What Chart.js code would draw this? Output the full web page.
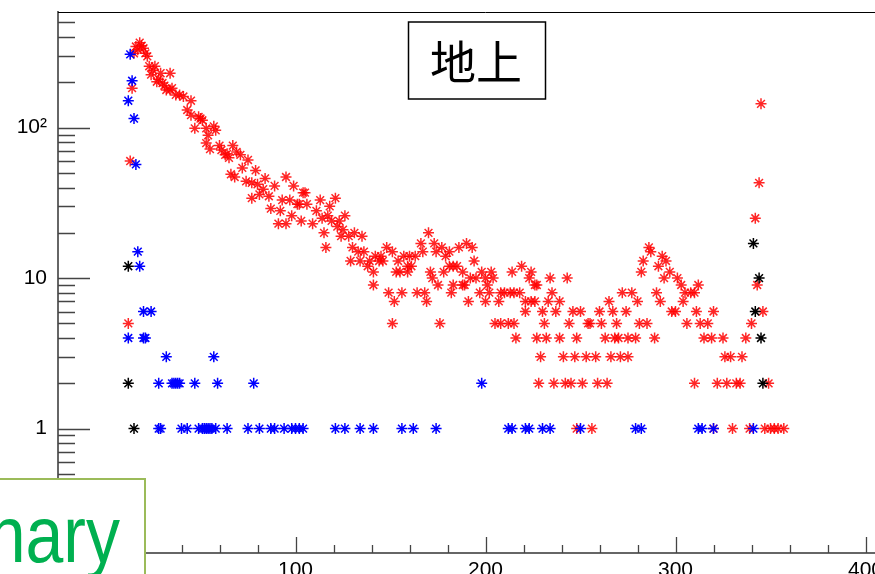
<!DOCTYPE html>
<html>
<head>
<meta charset="utf-8">
<script src="https://cdn.jsdelivr.net/npm/chart.js@4/dist/chart.umd.min.js"></script>
<style>
  html, body { margin: 0; padding: 0; background: #fff; overflow: hidden; }
  #wrap { width: 875px; height: 574px; overflow: hidden; position: relative; }
  canvas { position: absolute; left: 0; top: 0; }
</style>
</head>
<body>
<div id="wrap"><canvas id="myChart" width="920" height="600"></canvas></div>
<script>
// Werte (x, y)
const redX = [12,13,14,15,16,17,18,19,20,21,22,23,24,25,26,27,28,29,30,31,32,34,34,35,37,39,41,43,45,45,47,49,50,51,53,53,54,55,57,58,60,61,63,64,65,66,67,68,69,71,72,74,75,77,77,79,80,81,83,84,86,87,89,91,92,93,95,95,97,98,99,101,103,105,
  102,104,106,109,111,113,114,115,116,117,118,119,121,122,123,124,125,126,128,129,130,131,133,134,135,136,138,139,141,141,142,144,145,146,148,149,151,151,152,153,154,155,156,157,159,159,160,161,163,164,166,167,168,169,170,171,172,173,174,175,176,177,178,179,181,181,182,183,183,185,186,188,188,189,190,191,192,193,194,195,197,198,200,200,201,202,203,204,205,207,208,208,210,212,213,214,215,215,216,218,219,221,221,223,224,224,226,227,229,230,231,
  226,227,228,232,233,234,235,236,237,239,239,241,242,243,244,245,246,247,248,248,250,251,253,254,255,256,258,259,260,261,263,264,265,266,267,268,269,270,271,272,274,275,275,277,279,280,281,282,283,285,286,287,289,290,291,292,293,294,295,297,298,300,301,303,304,305,306,308,310,310,311,312,313,315,317,319,320,320,322,325,326,327,329,330,332,334,335,337,339,340,342,343,344,345,346,347,349,350,352,354,357];
const redY = [5,60,183,312,346,330,367,350,337,312,298,256,225,240,256,202,210,230,198,190,178,230,178,183,165,165,161,131,151,121,99,118,115,112,99,79,89,72,102,96,76,71,66,67,63,49,76,47,69,66,54,44,61,43,34,52,42,36,39,46,35,29,41,23,28,33,47,23,33,26,41,31,24,37,
  31,37,31,23,28,33,25,20,16,26,30,24,34,22,24,19,21,26,19,13,16,20,15,13,19,15,12,13,11,9,14,13,14,13,16,8,15,5,7,11,13,11,8,14,11,12,14,12,14,8,17,15,8,7,20,11,10,17,15,9,5,16,11,14,15,12,8,12,9,12,16,11,9,9,17,7,10,16,13,10,8,11,10,7,9,8,11,10,5,7,8,5,8,5,8,11,8,5,4,8,12,7,6,10,11,7,9,4,3,6,5,
  7,9,2,4,7,10,8,2,6,7,4,3,2,10,5,2,6,3,4,1,6,2,3,5,5,1,3,2,6,5,4,2,7,3,6,4,5,4,3,8,6,4,3,8,4,7,5,11,13,5,16,15,4,8,12,7,14,10,13,11,6,6,10,9,7,8,5,8,2,8,6,9,5,4,5,4,6,1,2,4,3,2,3,1,2,2,3,4,1,5,25,9,43,144,6,1,2,1,1,1,1];

const blueX = [13,14,12,15,16,17,18,20,24,12,20,21,32,57,28,35,36,37,38,39,47,59,78,198,
  28,29,40,43,49,51,52,53,54,55,56,58,64,75,81,87,89,94,98,100,102,104,121,126,134,141,156,162,174,212,214,221,223,230,234,250,279,282,312,314,320,341];
const blueY = [307,205,151,115,57,15,12,6,6,4,4,4,3,3,2,2,2,2,2,2,2,2,2,2,
  1,1,1,1,1,1,1,1,1,1,1,1,1,1,1,1,1,1,1,1,1,1,1,1,1,1,1,1,1,1,1,1,1,1,1,1,1,1,1,1,1,1];

const blackX = [12,12,15,341,344,342,345,346];
const blackY = [12,2,1,17,10,6,4,2];

// Achsenbeschriftungen
const xTickValues = [0, 100, 200, 300, 400];
const yTickValues = [1, 10, 100];
const yTickTexts = ['1', '10', '10\u00b2'];

function toPoints(xs, ys) {
  return xs.map((x, i) => ({ x: x, y: ys[i] }));
}

// Rahmen, Ticks nach innen, Titel und Kasten
const framePlugin = {
  id: 'frame',
  afterDraw(chart) {
    const ctx = chart.ctx;
    const a = chart.chartArea;
    const xs = chart.scales.x;
    const ys = chart.scales.y;
    ctx.save();
    ctx.strokeStyle = '#000';
    ctx.lineWidth = 1;
    ctx.beginPath();
    ctx.moveTo(a.left, a.top + 0.5);
    ctx.lineTo(a.right, a.top + 0.5);
    ctx.stroke();

    ctx.strokeStyle = '#444';
    ctx.lineWidth = 1.3;
    ctx.beginPath();
    // y Ticks
    for (let n = -1; n <= 2; n++) {
      for (let k = 1; k <= 9; k++) {
        const v = k * Math.pow(10, n);
        if (v < ys.min || v > ys.max) continue;
        const py = Math.round(ys.getPixelForValue(v)) + 0.5;
        const len = k === 1 ? 32 : 17;
        ctx.moveTo(a.left, py);
        ctx.lineTo(a.left + len, py);
      }
    }
    // x Ticks
    for (let v = -20; v <= 420; v += 20) {
      const px = Math.round(xs.getPixelForValue(v)) + 0.5;
      const len = v % 100 === 0 ? 16 : 8;
      ctx.moveTo(px, a.bottom);
      ctx.lineTo(px, a.bottom - len);
    }
    ctx.stroke();

    // Titelkasten
    ctx.fillStyle = '#fff';
    ctx.fillRect(408.5, 22, 137, 77);
    ctx.strokeStyle = '#000';
    ctx.lineWidth = 1.5;
    ctx.strokeRect(408.5, 22, 137, 77);
    ctx.fillStyle = '#000';
    ctx.font = '46px "Noto Sans CJK JP"';
    ctx.textAlign = 'center';
    ctx.textBaseline = 'middle';
    ctx.fillText('地上', 476, 62);

    // gruener Kasten unten links
    ctx.fillStyle = '#fff';
    ctx.fillRect(-10, 479, 155, 130);
    ctx.strokeStyle = '#9bbb59';
    ctx.lineWidth = 2;
    ctx.strokeRect(-10, 479, 155, 130);
    ctx.fillStyle = '#00b050';
    ctx.font = '68px "Liberation Sans"';
    ctx.textAlign = 'right';
    ctx.textBaseline = 'alphabetic';
    ctx.translate(120, 562);
    ctx.scale(1, 1.18);
    ctx.fillText('Preliminary', 0, 0);
    ctx.restore();
  }
};

const common = { showLine: false, pointStyle: 'star', pointRadius: 5.5, pointHoverRadius: 5.5, pointBorderWidth: 1.5 };

const config = {
  type: 'scatter',
  data: {
    datasets: [
      Object.assign({ label: 'black', data: toPoints(blackX, blackY), borderColor: 'rgb(0,0,0)', backgroundColor: 'rgb(0,0,0)' }, common),
      Object.assign({ label: 'blue', data: toPoints(blueX, blueY), borderColor: 'rgb(0,0,255)', backgroundColor: 'rgb(0,0,255)' }, common),
      Object.assign({ label: 'red', data: toPoints(redX, redY), borderColor: 'rgba(255,0,0,0.85)', backgroundColor: 'rgba(255,0,0,0.85)' }, common)
    ]
  },
  options: {
    responsive: false,
    animation: false,
    devicePixelRatio: 1,
    layout: { padding: { top: 12, right: 0, left: 0, bottom: 0 } },
    plugins: { legend: { display: false }, tooltip: { enabled: false } },
    scales: {
      x: {
        type: 'linear',
        min: -25,
        max: 425,
        grid: { display: false, drawTicks: false },
        border: { display: true, color: '#666', width: 2 },
        afterFit: s => { s.height = 47; s.paddingLeft = 0; s.paddingRight = 0; },
        afterBuildTicks: s => { s.ticks = xTickValues.map(v => ({ value: v })); },
        ticks: { padding: 5, color: '#000', font: { family: 'Liberation Sans', size: 21 }, maxRotation: 0, autoSkip: false }
      },
      y: {
        type: 'logarithmic',
        min: 0.149,
        max: 587,
        grid: { display: false, drawTicks: false },
        border: { display: true, color: '#666', width: 2 },
        afterFit: s => { s.width = 58; s.paddingTop = 0; s.paddingBottom = 0; },
        afterBuildTicks: s => { s.ticks = yTickValues.map(v => ({ value: v })); },
        ticks: {
          padding: 11,
          color: '#000',
          autoSkip: false,
          font: { family: 'Liberation Sans', size: 21 },
          callback: function (value) {
            const i = yTickValues.indexOf(value);
            return i >= 0 ? yTickTexts[i] : '';
          }
        }
      }
    }
  },
  plugins: [framePlugin]
};

const ctx = document.getElementById('myChart').getContext('2d');
const myChart = new Chart(ctx, config);
</script>
</body>
</html>
